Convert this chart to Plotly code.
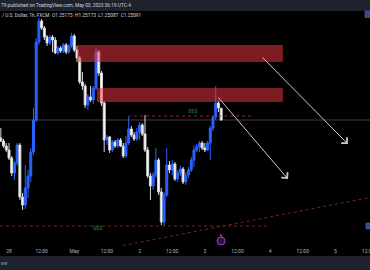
import pandas as pd
import plotly.graph_objects as go

header_text = "79 published on TradingView.com, May 03, 2023 06:19 UTC-4"
symbol_text = "/ U.S. Dollar, 1h, FXCM"
ohlc_text = "O1.25173  H1.25173  L1.25087  C1.25091"

# hourly session timestamps (weekend gap removed)
all_hours = pd.date_range("2023-04-27 21:00", "2023-05-03 06:00", freq="h")
times = [t for t in all_hours
         if not (pd.Timestamp("2023-04-28 17:00") <= t < pd.Timestamp("2023-04-30 17:00"))]

open_ = [1.24965, 1.24944, 1.24909, 1.24881, 1.24825, 1.24720, 1.24790, 1.24916, 1.24552, 1.24496,
         1.24615, 1.24699, 1.24867, 1.25091, 1.25637, 1.25784, 1.25735, 1.25672, 1.25630, 1.25672,
         1.25651, 1.25560, 1.25595, 1.25574, 1.25616, 1.25567, 1.25609, 1.25679, 1.25581, 1.25525,
         1.25357, 1.25329, 1.25196, 1.25252, 1.25231, 1.25315, 1.25567, 1.25420, 1.25210, 1.24951,
         1.24972, 1.24881, 1.24937, 1.24909, 1.24951, 1.24909, 1.24839, 1.24930, 1.25028, 1.24986,
         1.24958, 1.25007, 1.25056, 1.24993, 1.24881, 1.24699, 1.24629, 1.24706, 1.24811, 1.24587,
         1.24377, 1.24566, 1.24776, 1.24741, 1.24783, 1.24678, 1.24720, 1.24748, 1.24657, 1.24706,
         1.24741, 1.24811, 1.24881, 1.24902, 1.24930, 1.24895, 1.24881, 1.24930, 1.25035, 1.25112,
         1.25210, 1.25173]
high = [1.25035, 1.24958, 1.24930, 1.24930, 1.24839, 1.24804, 1.24930, 1.24930, 1.24580, 1.24776,
        1.24741, 1.24895, 1.25175, 1.25665, 1.25805, 1.25798, 1.25749, 1.25686, 1.25686, 1.25686,
        1.25672, 1.25609, 1.25609, 1.25630, 1.25630, 1.25623, 1.25700, 1.25693, 1.25609, 1.25539,
        1.25427, 1.25343, 1.25273, 1.25329, 1.25329, 1.25602, 1.25581, 1.25434, 1.25224, 1.24986,
        1.24979, 1.24951, 1.24951, 1.24965, 1.24965, 1.24930, 1.24979, 1.25112, 1.25049, 1.25007,
        1.25035, 1.25077, 1.25070, 1.25126, 1.24902, 1.24720, 1.24727, 1.24895, 1.24825, 1.24615,
        1.24587, 1.24895, 1.24804, 1.24811, 1.24797, 1.24741, 1.24769, 1.24762, 1.24727, 1.24762,
        1.24832, 1.24916, 1.24923, 1.24944, 1.24944, 1.24930, 1.24944, 1.25049, 1.25126, 1.25329,
        1.25224, 1.25173]
low = [1.24937, 1.24895, 1.24867, 1.24811, 1.24699, 1.24671, 1.24769, 1.24531, 1.24461, 1.24468,
       1.24545, 1.24657, 1.24846, 1.25077, 1.25616, 1.25721, 1.25651, 1.25609, 1.25616, 1.25567,
       1.25553, 1.25546, 1.25560, 1.25560, 1.25553, 1.25553, 1.25595, 1.25567, 1.25497, 1.25343,
       1.25301, 1.25175, 1.25161, 1.25217, 1.25203, 1.25301, 1.25399, 1.25189, 1.24867, 1.24916,
       1.24860, 1.24867, 1.24895, 1.24895, 1.24902, 1.24825, 1.24825, 1.24916, 1.24972, 1.24944,
       1.24944, 1.24951, 1.24979, 1.24867, 1.24685, 1.24531, 1.24601, 1.24685, 1.24566, 1.24356,
       1.24349, 1.24552, 1.24720, 1.24706, 1.24664, 1.24657, 1.24699, 1.24643, 1.24636, 1.24685,
       1.24727, 1.24762, 1.24867, 1.24867, 1.24881, 1.24867, 1.24874, 1.24811, 1.25014, 1.25091,
       1.25147, 1.25087]
close = [1.24944, 1.24909, 1.24881, 1.24825, 1.24720, 1.24790, 1.24916, 1.24552, 1.24496, 1.24615,
         1.24699, 1.24867, 1.25091, 1.25637, 1.25784, 1.25735, 1.25672, 1.25630, 1.25672, 1.25651,
         1.25560, 1.25595, 1.25574, 1.25616, 1.25567, 1.25609, 1.25679, 1.25581, 1.25525, 1.25357,
         1.25329, 1.25196, 1.25252, 1.25231, 1.25315, 1.25567, 1.25420, 1.25210, 1.24951, 1.24972,
         1.24881, 1.24937, 1.24909, 1.24951, 1.24909, 1.24839, 1.24930, 1.25028, 1.24986, 1.24958,
         1.25007, 1.25056, 1.24993, 1.24881, 1.24699, 1.24629, 1.24706, 1.24811, 1.24587, 1.24377,
         1.24566, 1.24776, 1.24741, 1.24783, 1.24678, 1.24720, 1.24748, 1.24657, 1.24706, 1.24741,
         1.24811, 1.24881, 1.24902, 1.24930, 1.24895, 1.24881, 1.24930, 1.25035, 1.25112, 1.25210,
         1.25175, 1.25091]

tick_times = ["2023-04-28 00:00", "2023-04-28 12:00", "2023-05-01 00:00", "2023-05-01 12:00",
              "2023-05-02 00:00", "2023-05-02 12:00", "2023-05-03 00:00", "2023-05-03 12:00",
              "2023-05-04 00:00", "2023-05-04 12:00", "2023-05-05 00:00", "2023-05-05 12:00"]
tick_labels = ["28", "12:00", "May", "12:00", "2", "12:00", "3", "12:00", "4", "12:00", "5", "12:00"]

# supply zones / levels (price)
zone_upper = (1.25497, 1.25616)
zone_lower = (1.25217, 1.25315)
liquidity_high = 1.25119
liquidity_low = 1.24349


def slot(ts):
    ts = pd.Timestamp(ts)
    if ts in times:
        return times.index(ts)
    return len(times) - 1 + (ts - times[-1]) / pd.Timedelta(hours=1)


xs = list(range(len(times)))
tickvals = [slot(t) for t in tick_times]

W, H = 370, 270
X0, X1 = -0.31, 135.72
Y_LO, Y_HI = 1.24209, 1.25854
pane_top, pane_bot = 11, 246

fig = go.Figure()
fig.add_trace(go.Candlestick(
    x=xs, open=open_, high=high, low=low, close=close,
    increasing=dict(fillcolor="#2962ff", line=dict(color="#2962ff", width=1)),
    decreasing=dict(fillcolor="#ffffff", line=dict(color="#d8d8d8", width=1)),
    whiskerwidth=0, hoverinfo="skip", showlegend=False,
))

shapes = []
# top / bottom bars
shapes.append(dict(type="rect", xref="paper", yref="paper", x0=0, x1=1,
                   y0=(H - 11) / H, y1=1, fillcolor="#1e222d", line_width=0, layer="above"))
shapes.append(dict(type="rect", xref="paper", yref="paper", x0=0, x1=1,
                   y0=0, y1=14 / H, fillcolor="#1e222d", line_width=0, layer="above"))
# last price line
shapes.append(dict(type="line", xref="paper", yref="y", x0=0, x1=1, y0=close[-1], y1=close[-1],
                   line=dict(color="#3c3f47", width=1), layer="below"))
# zones
shapes.append(dict(type="rect", xref="x", yref="y", x0=28.0, x1=103.7,
                   y0=zone_upper[0], y1=zone_upper[1],
                   fillcolor="rgba(242,54,69,0.52)", line_width=0, layer="above"))
shapes.append(dict(type="rect", xref="x", yref="y", x0=35.3, x1=103.7,
                   y0=zone_lower[0], y1=zone_lower[1],
                   fillcolor="rgba(242,54,69,0.52)", line_width=0, layer="above"))
# liquidity lines
shapes.append(dict(type="line", xref="x", yref="y", x0=46.8, x1=92.7,
                   y0=liquidity_high, y1=liquidity_high,
                   line=dict(color="#8e2a30", width=1.2, dash="dot")))
shapes.append(dict(type="line", xref="x", yref="y", x0=X0, x1=99.0,
                   y0=liquidity_low, y1=liquidity_low,
                   line=dict(color="#6e2228", width=1, dash="dot")))
# rising trend line
shapes.append(dict(type="line", xref="x", yref="y", x0=44.9, x1=135.7,
                   y0=1.242125, y1=1.245485,
                   line=dict(color="#7a2228", width=1, dash="dot")))
# event icon
shapes.append(dict(type="circle", xref="paper", yref="paper",
                   x0=217 / W, x1=225 / W, y0=(H - 245) / H, y1=(H - 237) / H,
                   fillcolor="#2b1240", line=dict(color="#9c3ad0", width=1)))
# price label stubs at right edge
shapes.append(dict(type="rect", xref="paper", yref="paper", x0=365 / W, x1=1,
                   y0=(H - 17.5) / H, y1=(H - 11) / H, fillcolor="#2c4a8c",
                   line=dict(color="#5b78b8", width=0.5)))
shapes.append(dict(type="rect", xref="paper", yref="paper", x0=366 / W, x1=1,
                   y0=(H - 229) / H, y1=(H - 223) / H, fillcolor="#2c4a8c",
                   line=dict(color="#5b78b8", width=0.5)))

annotations = [
    dict(text=header_text, xref="paper", yref="paper", x=-0.004, y=(H - 5.5) / H,
         xanchor="left", yanchor="middle", showarrow=False,
         font=dict(size=4.8, color="#d1d4dc", family="Roboto")),
    dict(text=symbol_text + "  " + ohlc_text, xref="paper", yref="paper", x=0, y=(H - 15.5) / H,
         xanchor="left", yanchor="middle", showarrow=False,
         font=dict(size=4.8, color="#d1d4dc", family="Roboto")),
    dict(text="$$$", xref="x", yref="y", x=70.3, y=1.25154, showarrow=False,
         font=dict(size=5.5, color="#1f8a3c", family="Roboto")),
    dict(text="$$$", xref="x", yref="y", x=35.7, y=1.24335, showarrow=False,
         font=dict(size=5.5, color="#1f8a3c", family="Roboto")),
    dict(text="ϟ", xref="paper", yref="paper", x=221 / W, y=(H - 241) / H, showarrow=False,
         font=dict(size=6, color="#c070f0", family="DejaVu Sans")),
    dict(text="ew", xref="paper", yref="paper", x=-0.004, y=(H - 263) / H,
         xanchor="left", yanchor="middle", showarrow=False,
         font=dict(size=5, color="#9598a1", family="Roboto")),
    dict(x=127.6, y=1.24923, ax=95.65, ay=1.25539, xref="x", yref="y", axref="x", ayref="y",
         text="", showarrow=True, arrowhead=4, arrowsize=1.6, arrowwidth=1, arrowcolor="#c8cad0"),
    dict(x=105.57, y=1.24678, ax=79.47, ay=1.25259, xref="x", yref="y", axref="x", ayref="y",
         text="", showarrow=True, arrowhead=4, arrowsize=1.6, arrowwidth=1, arrowcolor="#c8cad0"),
]

fig.update_layout(
    width=W, height=H,
    margin=dict(l=0, r=0, t=0, b=0, autoexpand=False),
    paper_bgcolor="#000000", plot_bgcolor="#000000",
    boxgap=0.28, boxgroupgap=0,
    shapes=shapes, annotations=annotations,
    xaxis=dict(range=[X0, X1], showgrid=False, zeroline=False, showline=False,
               rangeslider=dict(visible=False), tickmode="array", tickvals=tickvals,
               ticktext=tick_labels, ticks="", ticklabelstandoff=1,
               ticklabeloverflow="allow", automargin=False,
               tickfont=dict(size=5, color="#b2b5be", family="Roboto"),
               anchor="y", fixedrange=True),
    yaxis=dict(range=[Y_LO, Y_HI], showgrid=False, zeroline=False, showticklabels=False,
               automargin=False,
               domain=[(H - pane_bot) / H, (H - pane_top) / H], fixedrange=True),
    hovermode=False,
)

fig.write_html("out.html", config=dict(displayModeBar=False))
